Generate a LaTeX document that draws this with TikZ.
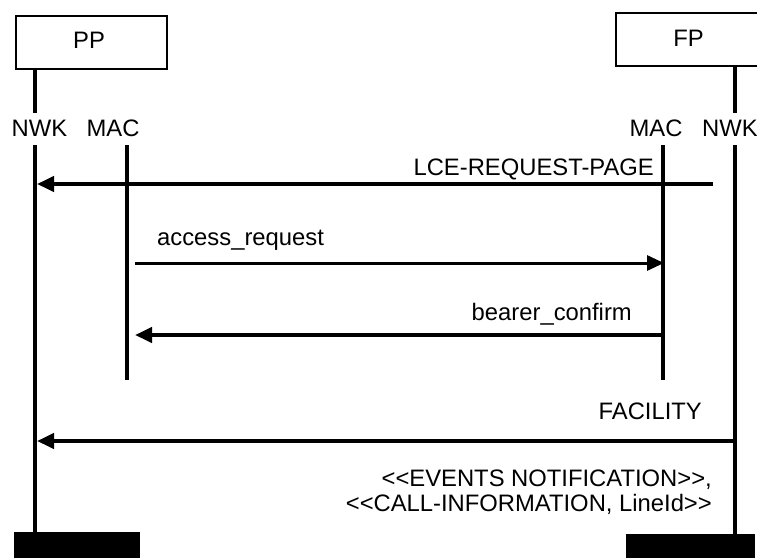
\documentclass[tikz,border=0pt]{standalone}
\usepackage{fontspec}
\setmainfont{Liberation Sans}
\usetikzlibrary{arrows.meta}
\begin{document}
\begin{tikzpicture}[x=1pt,y=-1pt,
  txt/.style={font=\fontsize{23.8}{24}\selectfont, inner sep=0pt},
  lifeline/.style={line width=3.5pt},
  msg/.style={line width=4pt, -{Triangle[length=17pt,width=15pt]}},
  thinmsg/.style={line width=3pt, -{Triangle[length=17pt,width=15pt]}},
  entity/.style={draw, line width=1.5pt},
  endbar/.style={fill=black}]
\useasboundingbox (0,0) rectangle (757,558);
% entity boxes
\draw[entity] (16,16) rectangle (167,69);
\node[txt] (pp) at (89,40) {PP};
\draw[entity] (760,13) -- (616,13) -- (616,66) -- (760,66);
\node[txt] (fp) at (688.5,38) {FP};
% layer labels
\node[txt] (nwkL) at (39.5,128.5) {NWK};
\node[txt] (macL) at (113,128.5) {MAC};
\node[txt] (macR) at (656,128.5) {MAC};
\node[txt] (nwkR) at (730,128.5) {NWK};
% lifeline coordinates
\coordinate (nL0) at (35,70);  \coordinate (nL1) at (35,113);
\coordinate (nL2) at (35,145); \coordinate (nL3) at (35,533);
\coordinate (nR0) at (735,67); \coordinate (nR1) at (735,113);
\coordinate (nR2) at (735,145); \coordinate (nR3) at (735,535);
\coordinate (mL0) at (127,145); \coordinate (mL1) at (127,380);
\coordinate (mR0) at (663,145); \coordinate (mR1) at (663,380);
\draw[lifeline] (nL0) -- (nL1);
\draw[lifeline] (nL2) -- (nL3);
\draw[lifeline] (nR0) -- (nR1);
\draw[lifeline] (nR2) -- (nR3);
\draw[lifeline] (mL0) -- (mL1);
\draw[lifeline] (mR0) -- (mR1);
% end bars
\fill[endbar] (14,532) rectangle (140,558);
\fill[endbar] (626,534) rectangle (755,558);
% messages
\coordinate (a1s) at (713,184); \coordinate (a1e) at (37,184);
\draw[msg] (a1s) -- (a1e);
\node[txt, anchor=east] (l1) at (654,169) {LCE-REQUEST-PAGE};
\coordinate (a2s) at (135,263); \coordinate (a2e) at (664,263);
\draw[thinmsg] (a2s) -- (a2e);
\node[txt, anchor=west] (l2) at (157,240) {access\_request};
\coordinate (a3s) at (665,335); \coordinate (a3e) at (135,335);
\draw[msg] (a3s) -- (a3e);
\node[txt, anchor=east] (l3) at (632,314) {bearer\_confirm};
\coordinate (a4s) at (737,441); \coordinate (a4e) at (37,441);
\draw[msg] (a4s) -- (a4e);
\node[txt, anchor=east] (l4) at (702,411) {FACILITY};
\node[txt, anchor=east] (l5) at (712,480) {<{}<EVENTS NOTIFICATION>{}>,};
\node[txt, anchor=east] (l6) at (712,504) {<{}<CALL-INFORMATION, LineId>{}>};
\end{tikzpicture}
\end{document}
